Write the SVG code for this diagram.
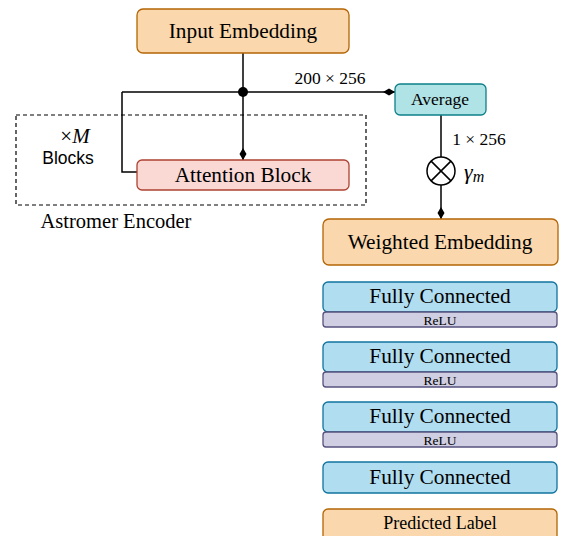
<svg xmlns="http://www.w3.org/2000/svg" width="563" height="536" viewBox="0 0 563 536">
<style>
.serif{font-family:"Liberation Serif","Times New Roman",serif;fill:#000}
.sans{font-family:"Liberation Sans",Arial,sans-serif;fill:#000}
.orange{fill:#fad7ac;stroke:#b46504;stroke-width:1.3}
.red{fill:#fad9d5;stroke:#ae4132;stroke-width:1.3}
.teal{fill:#b0e3e6;stroke:#0e8088;stroke-width:1.3}
.blue{fill:#b1ddf0;stroke:#10739e;stroke-width:1.3}
.purple{fill:#d0cee2;stroke:#56517e;stroke-width:1.3}
.ln{fill:none;stroke:#000;stroke-width:1.5}
</style>
<defs>
<marker id="dia" viewBox="0 0 12 8" refX="12" refY="4" markerWidth="12" markerHeight="8" markerUnits="userSpaceOnUse" orient="auto">
<path d="M0,4 L6,0.5 L12,4 L6,7.5 Z" fill="#000"/>
</marker>
</defs>
<g id="encoder-frame">
<rect x="16" y="115" width="350" height="90" fill="none" stroke="#000" stroke-width="1.2" stroke-dasharray="4,3"/>
<text class="serif" x="116" y="228" font-size="20.5" text-anchor="middle">Astromer Encoder</text>
<text class="serif" x="75" y="143" font-size="21" text-anchor="middle">×<tspan font-style="italic">M</tspan></text>
<text class="sans" x="68" y="164" font-size="17.5" text-anchor="middle">Blocks</text>
</g>
<g id="connectors">
<path class="ln" d="M243,53 V92"/>
<path class="ln" d="M122,92 H395" marker-end="url(#dia)"/>
<path class="ln" d="M243,92 V160" marker-end="url(#dia)"/>
<path class="ln" d="M122,92 V172 H137"/>
<circle cx="243" cy="92" r="5" fill="#000"/>
<path class="ln" d="M441,115 V157"/>
<path class="ln" d="M441,185 V219" marker-end="url(#dia)"/>
<text class="serif" x="330" y="84" font-size="17.5" text-anchor="middle">200 × 256</text>
<text class="serif" x="479" y="145" font-size="17.5" text-anchor="middle">1 × 256</text>
</g>
<g id="multiply">
<circle cx="441" cy="171" r="14" fill="#fff" stroke="#000" stroke-width="1.5"/>
<path d="M431.1,161.1 L450.9,180.9 M450.9,161.1 L431.1,180.9" stroke="#000" stroke-width="1.5"/>
<text class="serif" x="464" y="179" font-size="22" font-style="italic">γ<tspan font-size="16" dy="3">m</tspan></text>
</g>
<g id="input-embedding">
<rect class="orange" x="137" y="9" width="212" height="44" rx="6"/>
<text class="serif" x="243" y="38" font-size="21.3" text-anchor="middle">Input Embedding</text>
</g>
<g id="attention-block">
<rect class="red" x="137" y="160" width="212" height="30" rx="5"/>
<text class="serif" x="243" y="182" font-size="21.3" text-anchor="middle">Attention Block</text>
</g>
<g id="average">
<rect class="teal" x="395" y="84" width="91" height="31" rx="5"/>
<text class="serif" x="440" y="105" font-size="17.5" text-anchor="middle">Average</text>
</g>
<g id="weighted-embedding">
<rect class="orange" x="323" y="219" width="235" height="46" rx="6"/>
<text class="serif" x="440" y="249" font-size="21.3" text-anchor="middle">Weighted Embedding</text>
</g>
<g id="fc1">
<rect class="blue" x="323" y="282" width="234" height="30" rx="5"/>
<text class="serif" x="440" y="303" font-size="21.3" text-anchor="middle">Fully Connected</text>
</g>
<g id="relu1">
<rect class="purple" x="323" y="312" width="234" height="15" rx="3"/>
<text class="serif" x="440" y="324.5" font-size="13.5" text-anchor="middle">ReLU</text>
</g>
<g id="fc2">
<rect class="blue" x="323" y="342" width="234" height="30" rx="5"/>
<text class="serif" x="440" y="363" font-size="21.3" text-anchor="middle">Fully Connected</text>
</g>
<g id="relu2">
<rect class="purple" x="323" y="372" width="234" height="15" rx="3"/>
<text class="serif" x="440" y="384.5" font-size="13.5" text-anchor="middle">ReLU</text>
</g>
<g id="fc3">
<rect class="blue" x="323" y="402" width="234" height="30" rx="5"/>
<text class="serif" x="440" y="423" font-size="21.3" text-anchor="middle">Fully Connected</text>
</g>
<g id="relu3">
<rect class="purple" x="323" y="432" width="234" height="15" rx="3"/>
<text class="serif" x="440" y="444.5" font-size="13.5" text-anchor="middle">ReLU</text>
</g>
<g id="fc4">
<rect class="blue" x="323" y="462" width="234" height="31" rx="5"/>
<text class="serif" x="440" y="484" font-size="21.3" text-anchor="middle">Fully Connected</text>
</g>
<g id="predicted-label">
<rect class="orange" x="323" y="509" width="234" height="40" rx="5"/>
<text class="serif" x="440" y="529" font-size="18" text-anchor="middle">Predicted Label</text>
</g>
</svg>
